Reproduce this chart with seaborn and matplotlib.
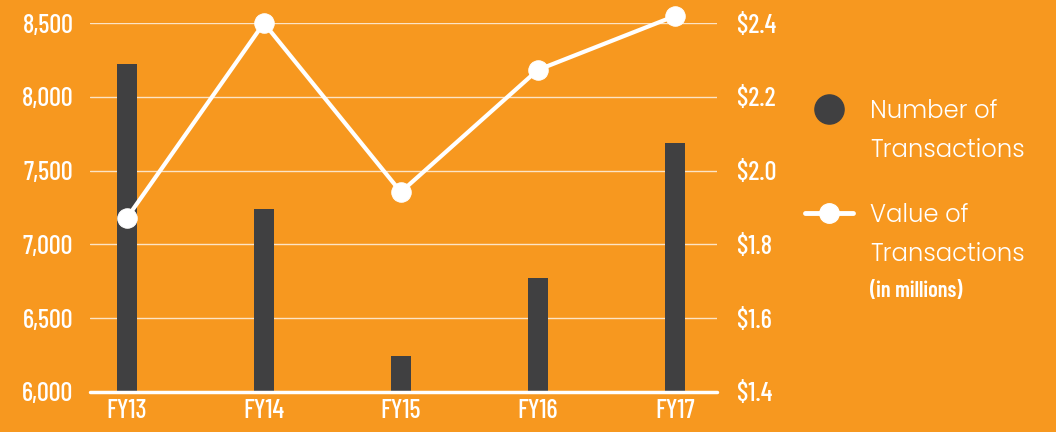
import matplotlib
matplotlib.use("Agg")
import matplotlib.pyplot as plt
from matplotlib.lines import Line2D
from matplotlib.ticker import FuncFormatter
import seaborn as sns
import pandas as pd

# data
years = ['FY13', 'FY14', 'FY15', 'FY16', 'FY17']
transactions = [8222, 7240, 6244, 6772, 7687]
value_millions = [1.872, 2.40, 1.942, 2.273, 2.419]

left_ticks = [6000, 6500, 7000, 7500, 8000, 8500]
right_ticks = [1.4, 1.6, 1.8, 2.0, 2.2, 2.4]

orange = '#F7981F'
bar_col = '#404041'
cond = ['Barlow Condensed', 'Liberation Sans Narrow', 'DejaVu Sans']
light = ['Poppins', 'Jost', 'Lato', 'DejaVu Sans']

df = pd.DataFrame({'year': years, 'count': transactions, 'value': value_millions})

sns.set_style('white')
plt.rcParams['font.family'] = cond

fig = plt.figure(figsize=(10.56, 4.32), dpi=100, facecolor=orange)
ax = fig.add_axes([0.0852, 0.0926, 0.594, 0.854])
ax.set_facecolor(orange)

sns.barplot(data=df, x='year', y='count', color=bar_col, width=0.146,
            saturation=1, linewidth=0, ax=ax, zorder=2)
ax.set_ylim(6000, 8500)
ax.set_xlim(-0.27, 4.31)
ax.set_yticks(left_ticks)
ax.yaxis.set_major_formatter(FuncFormatter(lambda v, p: f'{v:,.0f}'))
ax.grid(axis='y', color='white', linewidth=1, alpha=0.75, zorder=0)
ax.set_axisbelow(True)
for s in ax.spines.values():
    s.set_visible(False)
ax.axhline(6000, color='white', linewidth=2.5, zorder=3, clip_on=False)
ax.set_xlabel('')
ax.set_ylabel('')
ax.tick_params(axis='both', length=0, colors='white', labelsize=19)
ax.tick_params(axis='y', pad=12)
ax.tick_params(axis='x', pad=5)
for lab in ax.get_xticklabels() + ax.get_yticklabels():
    lab.set_fontweight(500)

ax2 = ax.twinx()
sns.lineplot(x=range(len(years)), y=value_millions, ax=ax2, color='white',
             linewidth=3, marker='o', markersize=14, markeredgecolor='white',
             zorder=4, clip_on=False)
ax2.set_ylim(1.4, 2.4)
ax2.set_yticks(right_ticks)
ax2.yaxis.set_major_formatter(FuncFormatter(lambda v, p: f'${v:.1f}'))
ax2.tick_params(axis='y', length=0, colors='white', labelsize=19, pad=14)
for lab in ax2.get_yticklabels():
    lab.set_fontweight(500)
for s in ax2.spines.values():
    s.set_visible(False)
ax2.grid(False)

# legend, drawn by hand so the marker sits beside the first line of text
fig.add_artist(Line2D([0.785], [0.748], transform=fig.transFigure, linestyle='none',
                      marker='o', markersize=21, markerfacecolor=bar_col,
                      markeredgecolor=bar_col))
fig.add_artist(Line2D([0.762, 0.808], [0.507, 0.507], transform=fig.transFigure,
                      color='white', linewidth=3.5))
fig.add_artist(Line2D([0.785], [0.507], transform=fig.transFigure, linestyle='none',
                      marker='o', markersize=14, markerfacecolor='white',
                      markeredgecolor='white'))

leg_kw = dict(color='white', fontsize=17.5, family=light, fontweight=300,
              ha='left', va='baseline')
fig.text(0.824, 0.727, 'Number of', **leg_kw)
fig.text(0.824, 0.637, 'Transactions', **leg_kw)
fig.text(0.824, 0.486, 'Value of', **leg_kw)
fig.text(0.824, 0.396, 'Transactions', **leg_kw)
fig.text(0.824, 0.312, '(in millions)', color='white', fontsize=16,
         family=cond, fontweight=600, ha='left', va='baseline')

fig.savefig('out.png', dpi=100, facecolor=orange)
